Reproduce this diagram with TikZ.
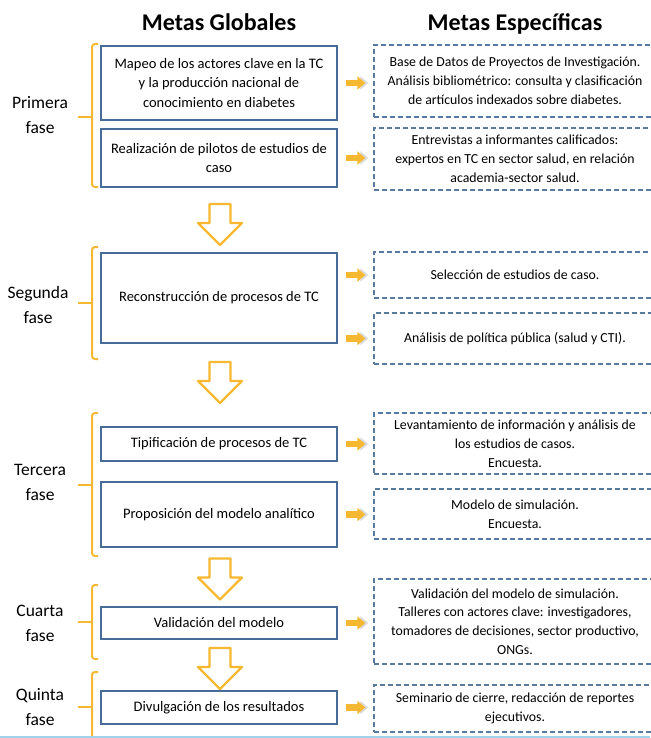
\documentclass[tikz,border=0pt]{standalone}
\usepackage{fontspec}
\setmainfont{Carlito}
\usetikzlibrary{arrows.meta}
\definecolor{fasec}{RGB}{246,184,48}
\definecolor{gboxc}{RGB}{72,108,152}
\definecolor{sboxc}{RGB}{88,122,158}
\definecolor{shadowgray}{RGB}{218,218,218}
\definecolor{bottomblue}{RGB}{160,210,235}
\begin{document}
\begin{tikzpicture}[x=1pt,y=-1pt,
  gbox/.style={draw=gboxc, line width=1.6pt, fill=white, minimum width=236pt, inner sep=0pt, align=center, font=\fontsize{14.5}{19.5}\selectfont},
  sbox/.style={draw=sboxc, line width=1.4pt, dash pattern=on 5pt off 3pt, minimum width=282pt, inner sep=0pt, align=center, font=\fontsize{13.8}{18.8}\selectfont},
  phase/.style={align=center, font=\fontsize{17.5}{25}\selectfont},
  title/.style={font=\fontsize{24}{28}\selectfont\bfseries, anchor=base},
  brk/.style={draw=fasec, line width=2pt, rounded corners=3pt},
  rarr/.style={draw=fasec, line width=6.5pt, -{Triangle[length=8pt,width=13pt]}, shorten <=8pt, shorten >=8pt},
  rshadow/.style={draw=shadowgray, line width=6.5pt, -{Triangle[length=8pt,width=13pt]}, shorten <=11pt, shorten >=5pt},
  downarr/.pic={\draw[fasec, line width=2.2pt, fill=white, line join=round] (-10.5,-20.5) -- (10.5,-20.5) -- (10.5,-1.5) -- (22,-1.5) -- (0,20.5) -- (-22,-1.5) -- (-10.5,-1.5) -- cycle;}
]
\useasboundingbox (0,0) rectangle (650,738);

% titles
\node[title] (t1) at (219,31) {Metas Globales};
\node[title] (t2) at (515,31) {Metas Específicas};

% phase labels
\node[phase] (p1) at (40,115) {Primera\\fase};
\node[phase] (p2) at (38,305) {Segunda\\fase};
\node[phase] (p3) at (40,482) {Tercera\\fase};
\node[phase] (p4) at (40,623) {Cuarta\\fase};
\node[phase] (p5) at (40,707) {Quinta\\fase};

% brackets
\draw[brk] (98,44) -- (92,44) -- (92,187) -- (98,187);
\draw[brk] (92,117) -- (78,117);
\draw[brk] (98,247) -- (92,247) -- (92,359) -- (98,359);
\draw[brk] (92,303) -- (78,303);
\draw[brk] (98,413) -- (92,413) -- (92,556) -- (98,556);
\draw[brk] (92,485) -- (78,485);
\draw[brk] (98,585) -- (92,585) -- (92,659) -- (98,659);
\draw[brk] (92,622) -- (78,622);
\draw[brk] (98,672) -- (92,672) -- (92,750);
\draw[brk] (92,707) -- (78,707);

% global goals
\node[gbox, minimum height=74pt] (gb1) at (219,83) {Mapeo de los actores clave en la TC\\y la producción nacional de\\conocimiento en diabetes};
\node[gbox, minimum height=58pt] (gb2) at (219,158) {Realización de pilotos de estudios de\\caso};
\node[gbox, minimum height=90pt] (gb3) at (219,298) {Reconstrucción de procesos de TC};
\node[gbox, minimum height=34pt] (gb4) at (219,444) {Tipificación de procesos de TC};
\node[gbox, minimum height=65pt] (gb5) at (219,514.5) {Proposición del modelo analítico};
\node[gbox, minimum height=32pt] (gb6) at (219,623) {Validación del modelo};
\node[gbox, minimum height=33pt] (gb7) at (219,707.5) {Divulgación de los resultados};

% specific goals
\node[sbox, minimum height=72pt] (sb1) at (515,81) {Base de Datos de Proyectos de Investigación.\\Análisis bibliométrico: consulta y clasificación\\de artículos indexados sobre diabetes.};
\node[sbox, minimum height=62pt] (sb2) at (515,159) {Entrevistas a informantes calificados:\\expertos en TC en sector salud, en relación\\academia-sector salud.};
\node[sbox, minimum height=46pt] (sb3) at (515,275) {Selección de estudios de caso.};
\node[sbox, minimum height=51pt] (sb4) at (515,338.5) {Análisis de política pública (salud y CTI).};
\node[sbox, minimum height=61pt] (sb5) at (515,443.5) {Levantamiento de información y análisis de\\los estudios de casos.\\Encuesta.};
\node[sbox, minimum height=50pt] (sb6) at (515,514) {Modelo de simulación.\\Encuesta.};
\node[sbox, minimum height=85pt] (sb7) at (515,621.5) {Validación del modelo de simulación.\\Talleres con actores clave: investigadores,\\tomadores de decisiones, sector productivo,\\ONGs.};
\node[sbox, minimum height=47pt] (sb8) at (515,708.5) {Seminario de cierre, redacción de reportes\\ejecutivos.};

% right arrows (shadow + arrow)
\foreach \g/\s in {gb1/sb1,gb2/sb2,gb4/sb5,gb5/sb6,gb6/sb7,gb7/sb8}{
  \draw[rshadow] (\g.east) -- (\g.east -| \s.west);
  \draw[rarr] (\g.east) -- (\g.east -| \s.west);
}
\foreach \g/\s in {gb3/sb3,gb3/sb4}{
  \draw[rshadow] (\g.east |- \s.west) -- (\s.west);
  \draw[rarr] (\g.east |- \s.west) -- (\s.west);
}

% down arrows
\pic (da1) at (220,224.5) {downarr};
\pic (da2) at (220,382.5) {downarr};
\pic (da3) at (220,579) {downarr};
\pic (da4) at (220,668.5) {downarr};

% bottom line
\draw[bottomblue, line width=2pt] (0,737) -- (650,737);
\end{tikzpicture}
\end{document}
